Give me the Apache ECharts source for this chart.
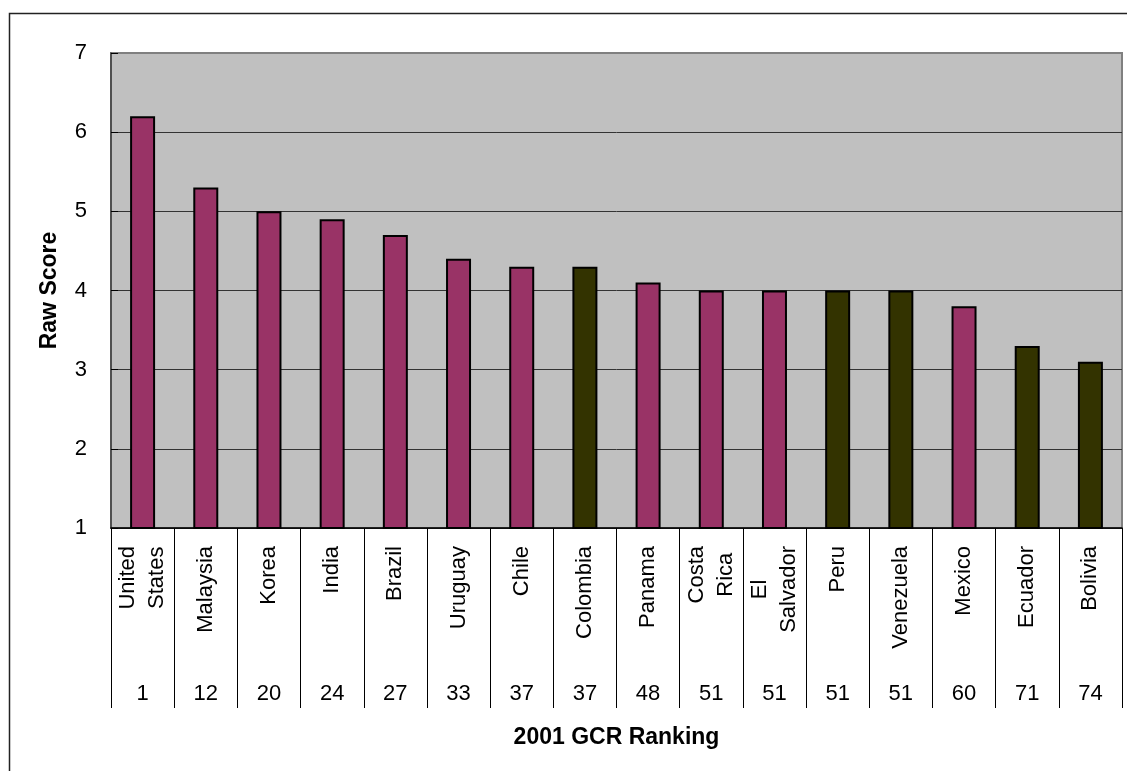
<!DOCTYPE html>
<html>
<head>
<meta charset="utf-8">
<title>Raw Score by 2001 GCR Ranking</title>
<script src="https://cdn.jsdelivr.net/npm/echarts@6/dist/echarts.min.js"></script>
<style>
  html, body { margin: 0; padding: 0; background: #ffffff; }
  #chart { width: 1127px; height: 771px; }
</style>
</head>
<body>
<div id="chart"></div>
<script>
// Countries (line breaks as printed under each bar)
const countries = ['United\nStates', 'Malaysia', 'Korea', 'India', 'Brazil', 'Uruguay', 'Chile',
  'Colombia', 'Panama', 'Costa\nRica', 'El\nSalvador', 'Peru', 'Venezuela', 'Mexico', 'Ecuador', 'Bolivia'];
// Raw score per country
const rawScores = [6.2, 5.3, 5.0, 4.9, 4.7, 4.4, 4.3, 4.3, 4.1, 4.0, 4.0, 4.0, 4.0, 3.8, 3.3, 3.1];
// 2001 GCR ranking per country
const gcrRankings = ['1', '12', '20', '24', '27', '33', '37', '37', '48', '51', '51', '51', '51', '60', '71', '74'];
// Andean Community members, drawn in the darker colour
const andean = ['Colombia', 'Peru', 'Venezuela', 'Ecuador', 'Bolivia'];
// Value axis ticks
const yTicks = { min: 1, max: 7, step: 1 };

const FONT = "'Liberation Sans', Arial, sans-serif";
const PURPLE = '#993366';
const OLIVE = '#333300';

const chart = echarts.init(document.getElementById('chart'), null, { renderer: 'canvas' });

const barData = rawScores.map((v, i) => ({
  value: v,
  itemStyle: { color: andean.includes(countries[i]) ? OLIVE : PURPLE }
}));

// Gridlines are dark; the one at the top edge blends into the grey plot frame
const tickCount = Math.round((yTicks.max - yTicks.min) / yTicks.step) + 1;
const gridLineColors = [];
for (let i = 0; i < tickCount; i++) gridLineColors.push(i === tickCount - 1 ? '#808080' : '#333333');

chart.setOption({
  animation: false,
  backgroundColor: '#ffffff',
  textStyle: { fontFamily: FONT },
  graphic: [{
    type: 'rect',
    silent: true,
    shape: { x: 9.5, y: 13.5, width: 1300, height: 900 },
    style: { fill: 'none', stroke: '#222222', lineWidth: 1.5 }
  }],
  grid: {
    left: 111, right: 5, top: 53, bottom: 243,
    show: true,
    backgroundColor: '#C0C0C0',
    borderColor: '#808080',
    borderWidth: 2
  },
  xAxis: [{
    type: 'category',
    data: countries,
    position: 'bottom',
    boundaryGap: true,
    axisLine: { show: true, lineStyle: { color: '#000000', width: 1.5 } },
    axisTick: { show: true, interval: 0, length: 180, lineStyle: { color: '#000000', width: 1 } },
    axisLabel: {
      interval: 0,
      rotate: 90,
      margin: 18,
      color: '#000000',
      fontFamily: FONT,
      fontSize: 22,
      formatter: (val) => val.split('\n').map(l => '{c|' + l + '}').join('\n'),
      rich: {
        c: { align: 'center', fontSize: 22, lineHeight: 29, fontFamily: FONT, color: '#000000' }
      }
    },
    name: '2001 GCR Ranking',
    nameLocation: 'middle',
    nameGap: 198,
    nameTextStyle: { fontFamily: FONT, fontSize: 23, fontWeight: 'bold', color: '#000000' }
  }, {
    type: 'category',
    data: gcrRankings,
    position: 'bottom',
    offset: 155,
    boundaryGap: true,
    axisLine: { show: false },
    axisTick: { show: false },
    axisLabel: {
      interval: 0,
      margin: 0,
      color: '#000000',
      fontFamily: FONT,
      fontSize: 22
    }
  }],
  yAxis: {
    type: 'value',
    min: yTicks.min,
    max: yTicks.max,
    interval: yTicks.step,
    axisLine: { show: true, lineStyle: { color: '#404040', width: 1.5 } },
    axisTick: { show: true, inside: true, length: 7, lineStyle: { color: '#000000' } },
    axisLabel: { margin: 24, color: '#000000', fontFamily: FONT, fontSize: 22 },
    splitLine: { show: true, lineStyle: { color: gridLineColors, width: 1 } },
    name: 'Raw Score',
    nameLocation: 'middle',
    nameGap: 50,
    nameTextStyle: { fontFamily: FONT, fontSize: 23, fontWeight: 'bold', color: '#000000' }
  },
  series: [{
    type: 'bar',
    xAxisIndex: 0,
    data: barData,
    barWidth: 25,
    itemStyle: { borderColor: '#000000', borderWidth: 2 }
  }]
});
</script>
</body>
</html>
